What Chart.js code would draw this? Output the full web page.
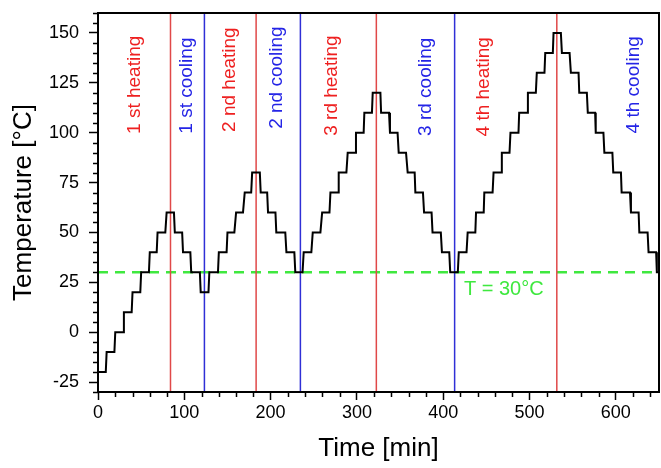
<!DOCTYPE html>
<html><head><meta charset="utf-8">
<script src="https://cdn.jsdelivr.net/npm/chart.js@4.4.0/dist/chart.umd.min.js"></script>
<style>html,body{margin:0;padding:0;background:#fff;}</style>
</head><body>
<canvas id="c" width="661" height="468"></canvas>
<script>
// ---- data ----
// staircase: each plateau given by its start and end time (min) and its temperature (°C)
const stepTimes = [
  0, 9, 10, 19, 20, 29, 30, 39, 40, 49, 50, 59, 60, 68, 69, 78, 79.5, 88,
  89, 97.5, 98.5, 107, 108, 118, 119, 128,
  129, 139, 140, 149, 150, 158, 160, 168, 170, 177.5, 178.6, 187.5,
  188.5, 196, 197, 205.6, 206.6, 217, 218.3, 227.5, 228.6, 237,
  238.3, 247.2, 248.8, 257.7, 259.7, 268.2, 269.3, 278.1, 278.9, 287.8, 289.3, 298.2, 298.9, 307.8, 308.6, 317.4, 318.3, 327.2,
  328, 337.2, 338.3, 347.1, 348.4, 356.9, 358.8, 366.9, 367.7, 376.5, 377.8, 386.5, 387.6, 397.2, 398.5, 407, 408.1, 416.9,
  418, 427, 428.3, 437.2, 438, 446.9, 447.6, 457.2, 458.3, 467.2, 467.9, 476.8, 477.9, 487.2, 488, 497.6, 498.1, 507.3, 508.4, 517.3, 518.2, 527, 527.8, 536.3,
  537.5, 546.4, 547.9, 556.8, 557.6, 566.4, 567.5, 576, 576.7, 585.6, 586.7, 596, 597, 605.9, 606.7, 616.4, 617.5, 626.4, 627.2, 636.8, 637.9, 646.7, 647.5, 652
];
const stepTemps = [
  -20, -20, -10, -10, 0, 0, 10, 10, 20, 20, 30, 30, 40, 40, 50, 50, 60, 60,
  50, 50, 40, 40, 30, 30, 20, 20,
  30, 30, 40, 40, 50, 50, 60, 60, 70, 70, 80, 80,
  70, 70, 60, 60, 50, 50, 40, 40, 30, 30,
  40, 40, 50, 50, 60, 60, 70, 70, 80, 80, 90, 90, 100, 100, 110, 110, 120, 120,
  110, 110, 100, 100, 90, 90, 80, 80, 70, 70, 60, 60, 50, 50, 40, 40, 30, 30,
  40, 40, 50, 50, 60, 60, 70, 70, 80, 80, 90, 90, 100, 100, 110, 110, 120, 120, 130, 130, 140, 140, 150, 150,
  140, 140, 130, 130, 120, 120, 110, 110, 100, 100, 90, 90, 80, 80, 70, 70, 60, 60, 50, 50, 40, 40, 30, 30
];
const heatingMarkTimes = [84, 183.2, 322.5, 531.6];
const coolingMarkTimes = [123.3, 234.5, 413.2];
const phaseLabels = ['1 st heating', '1 st cooling', '2 nd heating', '2 nd cooling', '3 rd heating', '3 rd cooling', '4 th heating', '4 th cooling'];
const phaseLabelTimes = [42.8, 102.9, 152.6, 207, 270.5, 380.3, 447.4, 620.8];
const phaseLabelTemps = [124, 123.6, 126.6, 127.6, 123.6, 123, 123, 124];
const refTemp = 30;
const refLabel = 'T = 30°C';
const refLabelTime = 424;
const refLabelTemp = 21.6;
const xTickValues = [0, 100, 200, 300, 400, 500, 600];
const yTickValues = [-25, 0, 25, 50, 75, 100, 125, 150];
const xRange = [0, 650];
const yRange = [-30, 160];

// ---- styles ----
const RED = '#ee2020', BLUE = '#2424e6', GREEN = '#3fe83f';
const RED_LINE = '#e04848', BLUE_LINE = '#2f2fd6';
const FONT = '"Liberation Sans", Arial, Helvetica, sans-serif';

const datasets = [];
datasets.push({
  data: stepTimes.map((t, i) => ({x: t, y: stepTemps[i]})),
  borderColor: '#000', borderWidth: 2, pointRadius: 0, showLine: true, order: 0, tension: 0
});
heatingMarkTimes.forEach(t => datasets.push({
  data: [{x: t, y: yRange[0]}, {x: t, y: yRange[1]}],
  borderColor: RED_LINE, borderWidth: 1.5, pointRadius: 0, showLine: true, order: 1
}));
coolingMarkTimes.forEach(t => datasets.push({
  data: [{x: t, y: yRange[0]}, {x: t, y: yRange[1]}],
  borderColor: BLUE_LINE, borderWidth: 1.5, pointRadius: 0, showLine: true, order: 1
}));
datasets.push({
  data: [{x: xRange[0], y: refTemp}, {x: xRange[1], y: refTemp}],
  borderColor: GREEN, borderWidth: 2.5, borderDash: [10, 7], pointRadius: 0, showLine: true, order: 2
});

const decorPlugin = {
  id: 'decor',
  afterDatasetsDraw(chart) {
    const {ctx, chartArea: a, scales: {x, y}} = chart;
    ctx.save();
    ctx.font = '19px ' + FONT;
    ctx.textAlign = 'center';
    ctx.textBaseline = 'middle';
    phaseLabels.forEach((txt, i) => {
      const px = x.getPixelForValue(phaseLabelTimes[i]);
      const py = y.getPixelForValue(phaseLabelTemps[i]);
      ctx.save();
      ctx.translate(px, py);
      ctx.rotate(-Math.PI / 2);
      ctx.fillStyle = txt.indexOf('heating') >= 0 ? RED : BLUE;
      ctx.fillText(txt, 0, 0);
      ctx.restore();
    });
    ctx.font = '20px ' + FONT;
    ctx.textAlign = 'left';
    ctx.fillStyle = GREEN;
    ctx.fillText(refLabel, x.getPixelForValue(refLabelTime), y.getPixelForValue(refLabelTemp));
    ctx.restore();
  },
  afterDraw(chart) {
    const {ctx, chartArea: a, scales: {x, y}} = chart;
    ctx.save();
    ctx.strokeStyle = '#000';
    ctx.lineWidth = 2;
    ctx.strokeRect(a.left, a.top, a.right - a.left, a.bottom - a.top);
    ctx.lineWidth = 1.5;
    ctx.beginPath();
    for (let v = 20; v < xRange[1]; v += 20) {
      if (v % 100 === 0) continue;
      const px = Math.round(x.getPixelForValue(v)) + 0.5;
      ctx.moveTo(px, a.bottom); ctx.lineTo(px, a.bottom + 5);
    }
    for (let v = -30; v <= yRange[1]; v += 5) {
      if (v % 25 === 0) continue;
      const py = Math.round(y.getPixelForValue(v)) + 0.5;
      ctx.moveTo(a.left, py); ctx.lineTo(a.left - 5, py);
    }
    ctx.stroke();
    ctx.restore();
  }
};

new Chart(document.getElementById('c'), {
  type: 'scatter',
  data: {datasets},
  options: {
    responsive: false,
    animation: false,
    devicePixelRatio: 1,
    layout: {padding: {top: 13, right: 2, left: 0, bottom: 0}},
    plugins: {legend: {display: false}, tooltip: {enabled: false}},
    scales: {
      x: {
        type: 'linear', min: xRange[0], max: xRange[1],
        afterBuildTicks: s => { s.ticks = xTickValues.map(v => ({value: v})); },
        afterFit: s => { s.height = 76; s.paddingLeft = 0; s.paddingRight = 0; },
        grid: {display: true, drawOnChartArea: false, drawTicks: true, tickLength: 8, tickColor: '#000', tickWidth: 1.5},
        border: {display: true, color: '#000', width: 2},
        ticks: {color: '#000', font: {family: FONT, size: 18}, padding: 2, maxRotation: 0},
        title: {display: true, text: 'Time [min]', color: '#000', font: {family: FONT, size: 26}, padding: {top: 0, bottom: 4}}
      },
      y: {
        type: 'linear', min: yRange[0], max: yRange[1],
        afterBuildTicks: s => { s.ticks = yTickValues.map(v => ({value: v})); },
        afterFit: s => { s.width = 98; s.paddingTop = 0; s.paddingBottom = 0; },
        grid: {display: true, drawOnChartArea: false, drawTicks: true, tickLength: 9, tickColor: '#000', tickWidth: 1.5},
        border: {display: true, color: '#000', width: 2},
        ticks: {color: '#000', font: {family: FONT, size: 18}, padding: 10},
        title: {display: true, text: 'Temperature [°C]', color: '#000', font: {family: FONT, size: 26}, padding: {top: 8, bottom: 0}}
      }
    }
  },
  plugins: [decorPlugin]
});
</script>
</body></html>
